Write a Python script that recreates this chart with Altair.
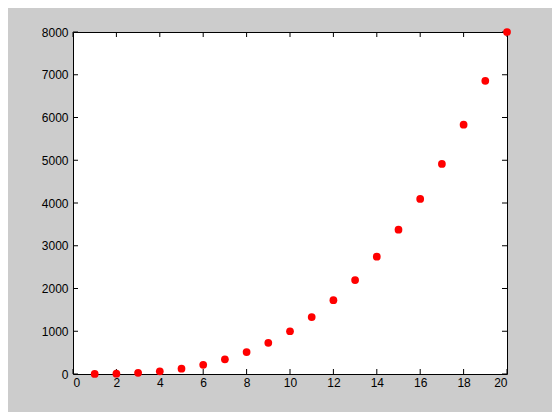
import altair as alt
import pandas as pd

x_vals = list(range(1, 21))
y_vals = [1, 8, 27, 64, 125, 216, 343, 512, 729, 1000, 1331, 1728, 2197, 2744,
          3375, 4096, 4913, 5832, 6859, 8000]
x_ticks = [0, 2, 4, 6, 8, 10, 12, 14, 16, 18, 20]
y_ticks = [0, 1000, 2000, 3000, 4000, 5000, 6000, 7000, 8000]

W, H = 434, 342
TL = 5

df = pd.DataFrame({"x": x_vals, "y": y_vals})
xt = pd.DataFrame({"x": x_ticks})
yt = pd.DataFrame({"y": y_ticks})

xs = alt.Scale(domain=[0, 20], nice=False, zero=False)
ys = alt.Scale(domain=[0, 8000], nice=False, zero=False)

xaxis = alt.Axis(values=x_ticks, ticks=False, domain=False, grid=False, format="d",
                 labelPadding=3, labelFontSize=12, labelColor="black",
                 labelFont="Liberation Sans", title=None)
yaxis = alt.Axis(values=y_ticks, ticks=False, domain=False, grid=False, format="d",
                 labelPadding=5, labelFontSize=12, labelColor="black",
                 labelFont="Liberation Sans", title=None)

points = alt.Chart(df).mark_circle(color="#ff0000", opacity=1, size=60).encode(
    x=alt.X("x:Q", scale=xs, axis=xaxis),
    y=alt.Y("y:Q", scale=ys, axis=yaxis),
)

bt = alt.Chart(xt).mark_rule(color="black", strokeWidth=1).encode(
    x=alt.X("x:Q", scale=xs, axis=xaxis), y=alt.value(H), y2=alt.value(H - TL))
tt = alt.Chart(xt).mark_rule(color="black", strokeWidth=1).encode(
    x=alt.X("x:Q", scale=xs, axis=xaxis), y=alt.value(0), y2=alt.value(TL))
lt = alt.Chart(yt).mark_rule(color="black", strokeWidth=1).encode(
    y=alt.Y("y:Q", scale=ys, axis=yaxis), x=alt.value(0), x2=alt.value(TL))
rt = alt.Chart(yt).mark_rule(color="black", strokeWidth=1).encode(
    y=alt.Y("y:Q", scale=ys, axis=yaxis), x=alt.value(W - TL), x2=alt.value(W))

chart = alt.layer(bt, tt, lt, rt, points).properties(
    width=W, height=H,
    background="#cccccc",
    padding={"left": 65, "top": 24, "right": 45, "bottom": 38},
    autosize=alt.AutoSizeParams(type="none"),
).configure_view(fill="white", stroke="black", strokeWidth=1)

chart.save("out.html", embed_options={"renderer": "svg", "actions": False})
